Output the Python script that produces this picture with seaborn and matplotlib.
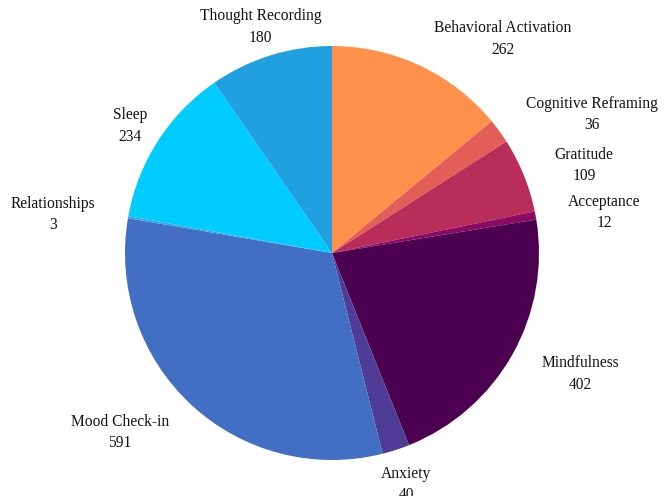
import numpy as np
import matplotlib
matplotlib.use("Agg")
import matplotlib.pyplot as plt
import seaborn as sns

categories = ["Behavioral Activation", "Cognitive Reframing", "Gratitude", "Acceptance",
              "Mindfulness", "Anxiety", "Mood Check-in", "Relationships", "Sleep",
              "Thought Recording"]
values = [262, 36, 109, 12, 402, 40, 591, 3, 234, 180]
colors = ["#FF914D", "#E35E57", "#B92D5A", "#8C0A64", "#4B0050", "#4F3C96",
          "#426EC3", "#2FA8E0", "#00CCFF", "#20A0E1"]
label_align = ["left", "left", "left", "left", "left", "center", "right", "right",
               "center", "center"]

sns.set_theme(style="white")
plt.rcParams["font.family"] = ["Liberation Serif", "DejaVu Serif"]

W, H = 669, 496
fig = plt.figure(figsize=(W / 100, H / 100), dpi=100)
ax = fig.add_axes([0, 0, 1, 1])

wedges, _ = ax.pie(values, colors=colors, startangle=90, counterclock=False,
                   radius=1.0, wedgeprops=dict(linewidth=0))

total = sum(values)
cum = 0
for cat, v, ha in zip(categories, values, label_align):
    mid = (cum + v / 2) / total * 2 * np.pi
    cum += v
    r = 1.16
    x = r * np.sin(mid)
    y = r * np.cos(mid) - 0.015
    ax.text(x, y, f"{cat}\n{v}", ha=ha, va="center", multialignment="center",
            fontsize=11.2, color="#111111", linespacing=1.45)

R = 207.0
cx, cy = 332.0, 253.0
ax.set_xlim(-cx / R, (W - cx) / R)
ax.set_ylim(-(H - cy) / R, cy / R)
ax.set_aspect("auto")
ax.axis("off")

fig.savefig("out.png", dpi=100)
